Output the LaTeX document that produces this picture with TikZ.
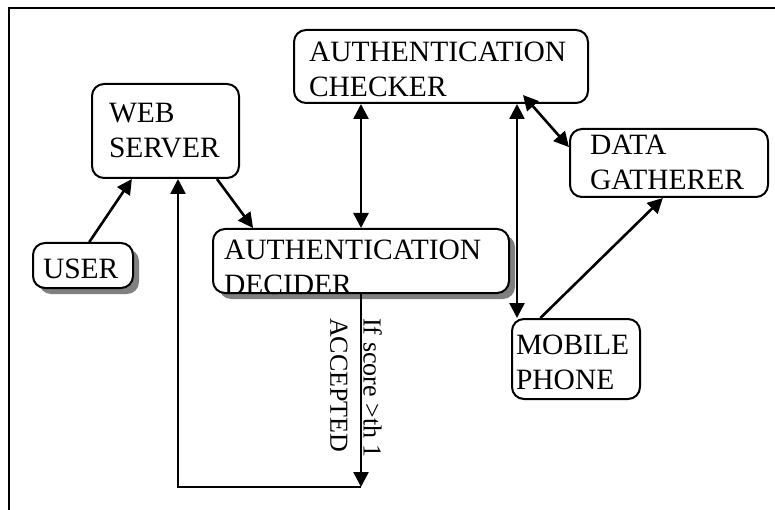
\documentclass[tikz,border=0pt]{standalone}
\usepackage{fontspec}
\setmainfont{Liberation Serif}
\usetikzlibrary{arrows.meta,shadows,calc}

\tikzset{
  box/.style={draw, rounded corners=12pt, line width=2pt, fill=white,
    align=left, anchor=north west, inner ysep=0pt,
    font=\fontsize{29.5}{35}\selectfont},
  shade/.style={drop shadow={shadow xshift=6pt, shadow yshift=-6pt,
    fill=black!50, opacity=1}},
  arr/.style={-{Triangle[length=15pt,width=15pt]}, line width=2.6pt},
  dbl/.style={{Triangle[length=15pt,width=15pt]}-{Triangle[length=15pt,width=15pt]}, line width=2.6pt},
  note/.style={align=left, inner sep=0pt, font=\fontsize{26}{33}\selectfont}
}

\begin{document}
\begin{tikzpicture}[x=1pt, y=-1pt]
    \useasboundingbox (0,0) rectangle (775,510);
    % frame
    \draw[line width=2.2pt] (775,8) -- (9,8) -- (9,510);

    % boxes
    \node[box, inner xsep=17pt, text width=113pt, text height=39pt, text depth=55pt]
      (web) at (91,83) {WEB\\SERVER};
    \node[box, shade, inner xsep=10pt, text width=80pt, text height=35pt, text depth=10pt]
      (user) at (32,242) {USER};
    \node[box, inner xsep=15pt, text width=264pt, text height=32pt, text depth=41pt]
      (checker) at (293,29) {AUTHENTICATION\\CHECKER};
    \node[box, shade, inner xsep=11pt, text width=274pt, text height=30pt, text depth=34pt]
      (decider) at (212,228) {AUTHENTICATION\\DECIDER};
    \node[box, inner xsep=20pt, text width=158pt, text height=26pt, text depth=42pt]
      (gatherer) at (569,128) {DATA\\GATHERER};
    \node[box, inner xsep=4pt, text width=120pt, text height=35pt, text depth=45pt]
      (phone) at (511,318) {MOBILE\\PHONE};

    % connectors
    \draw[arr] (user.75) -- (web.-125);
    \draw[arr] (web.-43) -- (decider.163);
    \draw[dbl] (decider.north) -- (decider.north |- checker.south);

    \coordinate (turn) at (decider.south |- 0,487);
    \coordinate (back) at (178,487);
    \draw[arr] (decider.south) -- (turn);
    \draw[arr] (turn) -- (back) -- (back |- web.south);
    \node[note, rotate=-90, anchor=north west] (rule) at (382,318)
      {If score >th 1\\ACCEPTED};

    \coordinate (pin) at ($(phone.north west)+(6,0)$);
    \draw[dbl] (pin) -- (pin |- checker.south);
    \draw[dbl] ($(checker.south west)+(230,-9)$) -- (gatherer.171);
    \draw[arr] (phone.131) -- (gatherer.-100);
  \end{tikzpicture}
\end{document}
